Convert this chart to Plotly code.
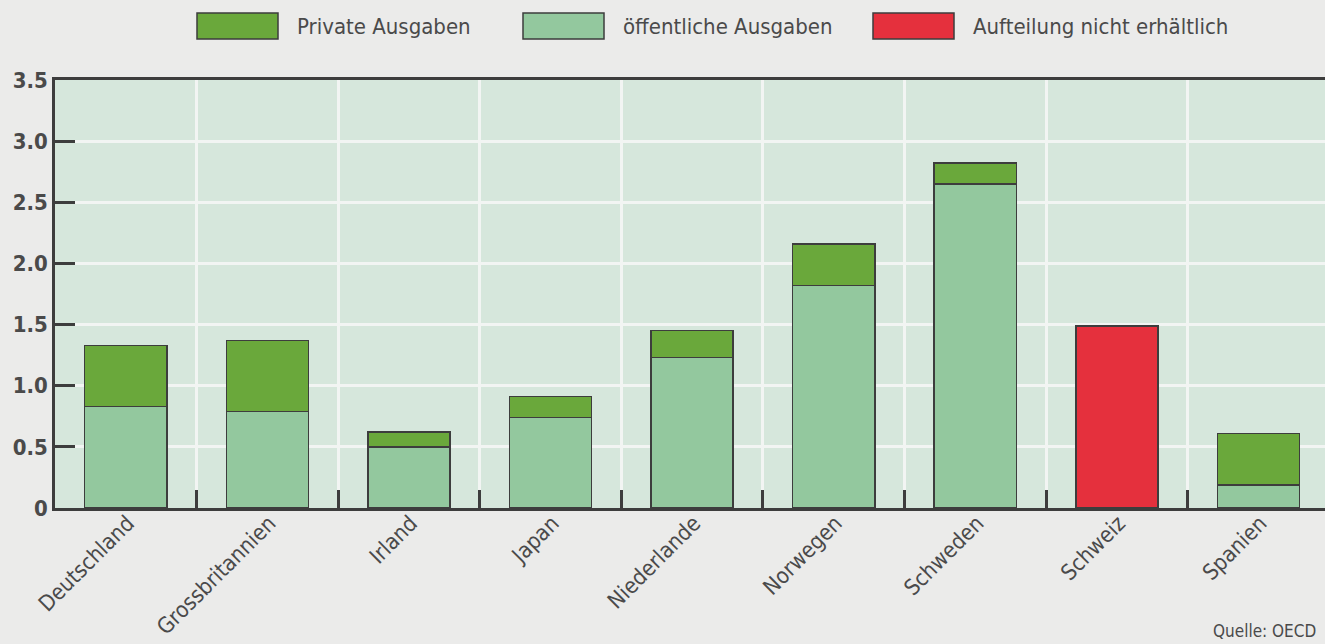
import plotly.graph_objects as go

countries = ["Deutschland", "Grossbritannien", "Irland", "Japan", "Niederlande",
             "Norwegen", "Schweden", "Schweiz", "Spanien"]
public = [0.83, 0.79, 0.50, 0.74, 1.23, 1.82, 2.65, None, 0.19]
private = [0.50, 0.58, 0.12, 0.17, 0.22, 0.34, 0.17, None, 0.42]
undivided = [None, None, None, None, None, None, None, 1.49, None]
y_ticks = [0, 0.5, 1.0, 1.5, 2.0, 2.5, 3.0, 3.5]
y_ticktext = ["0", "0.5", "1.0", "1.5", "2.0", "2.5", "3.0", "3.5"]

names = ["Private Ausgaben", "öffentliche Ausgaben", "Aufteilung nicht erhältlich"]
c_private = "#6aa83b"
c_public = "#93c89e"
c_red = "#e5303d"
outline = "#3d3d3d"
FONT = "DejaVu Sans Condensed, Liberation Sans Narrow, sans-serif"

fig = go.Figure()
fig.add_trace(go.Bar(x=countries, y=public, name=names[1], marker_color=c_public,
                     marker_line=dict(color=outline, width=1.5), width=0.58, showlegend=False))
fig.add_trace(go.Bar(x=countries, y=private, name=names[0], marker_color=c_private,
                     marker_line=dict(color=outline, width=1.5), width=0.58, showlegend=False))
fig.add_trace(go.Bar(x=countries, y=undivided, name=names[2], marker_color=c_red,
                     marker_line=dict(color=outline, width=1.5), width=0.58, showlegend=False))

W, H = 1325, 644
L, R, T, B = 55, 0, 80, 136
PW, PH = W - L - R, H - T - B


def px(x):
    return (x - L) / PW


def py(y):
    return (H - B - y) / PH


# custom legend (boxes + labels) at top
legend_items = [(names[0], c_private, 197), (names[1], c_public, 523), (names[2], c_red, 873)]
for label, col, x0 in legend_items:
    fig.add_shape(type="rect", xref="paper", yref="paper",
                  x0=px(x0), x1=px(x0 + 81), y0=py(39), y1=py(13),
                  fillcolor=col, line=dict(color=outline, width=1.5))
    fig.add_annotation(text=label, xref="paper", yref="paper",
                       x=px(x0 + 98), y=py(26),
                       xanchor="left", yanchor="middle", showarrow=False,
                       font=dict(family=FONT, size=22, color="#4a4a4a"))

fig.add_annotation(text="Quelle: OECD", xref="paper", yref="paper",
                   x=px(1318), y=py(631),
                   xanchor="right", yanchor="middle", showarrow=False,
                   font=dict(family=FONT, size=17, color="#4a4a4a"))

fig.update_layout(
    barmode="stack",
    width=W, height=H, autosize=False,
    margin=dict(l=L, r=R, t=T, b=B),
    paper_bgcolor="#ebebea",
    plot_bgcolor="#d6e7dc",
    font=dict(family=FONT, color="#4a4a4a"),
)
fig.update_xaxes(
    type="category", range=[-0.5, 8.47], automargin=False,
    tickson="boundaries", ticks="inside", ticklen=18, tickwidth=2.5, tickcolor=outline,
    showgrid=True, gridcolor="#f2f5f3", gridwidth=2.5,
    showline=True, linecolor=outline, linewidth=2.5, mirror=True,
    tickangle=-45, tickfont=dict(family=FONT, size=22, color="#4a4a4a"),
    ticklabelstandoff=-9, ticklabelshift=2,
)
fig.update_yaxes(
    range=[0, 3.5], tickvals=y_ticks, ticktext=y_ticktext, automargin=False,
    ticks="inside", ticklen=20, tickwidth=2.5, tickcolor=outline,
    showgrid=True, gridcolor="#f2f5f3", gridwidth=2.5, zeroline=False,
    showline=True, linecolor=outline, linewidth=2.5,
    tickfont=dict(family=FONT, size=22, color="#4a4a4a", weight="bold"),
)

fig.write_html("out.html", config={"displayModeBar": False},
               post_script="document.body.style.margin='0';document.body.style.overflow='hidden';")
